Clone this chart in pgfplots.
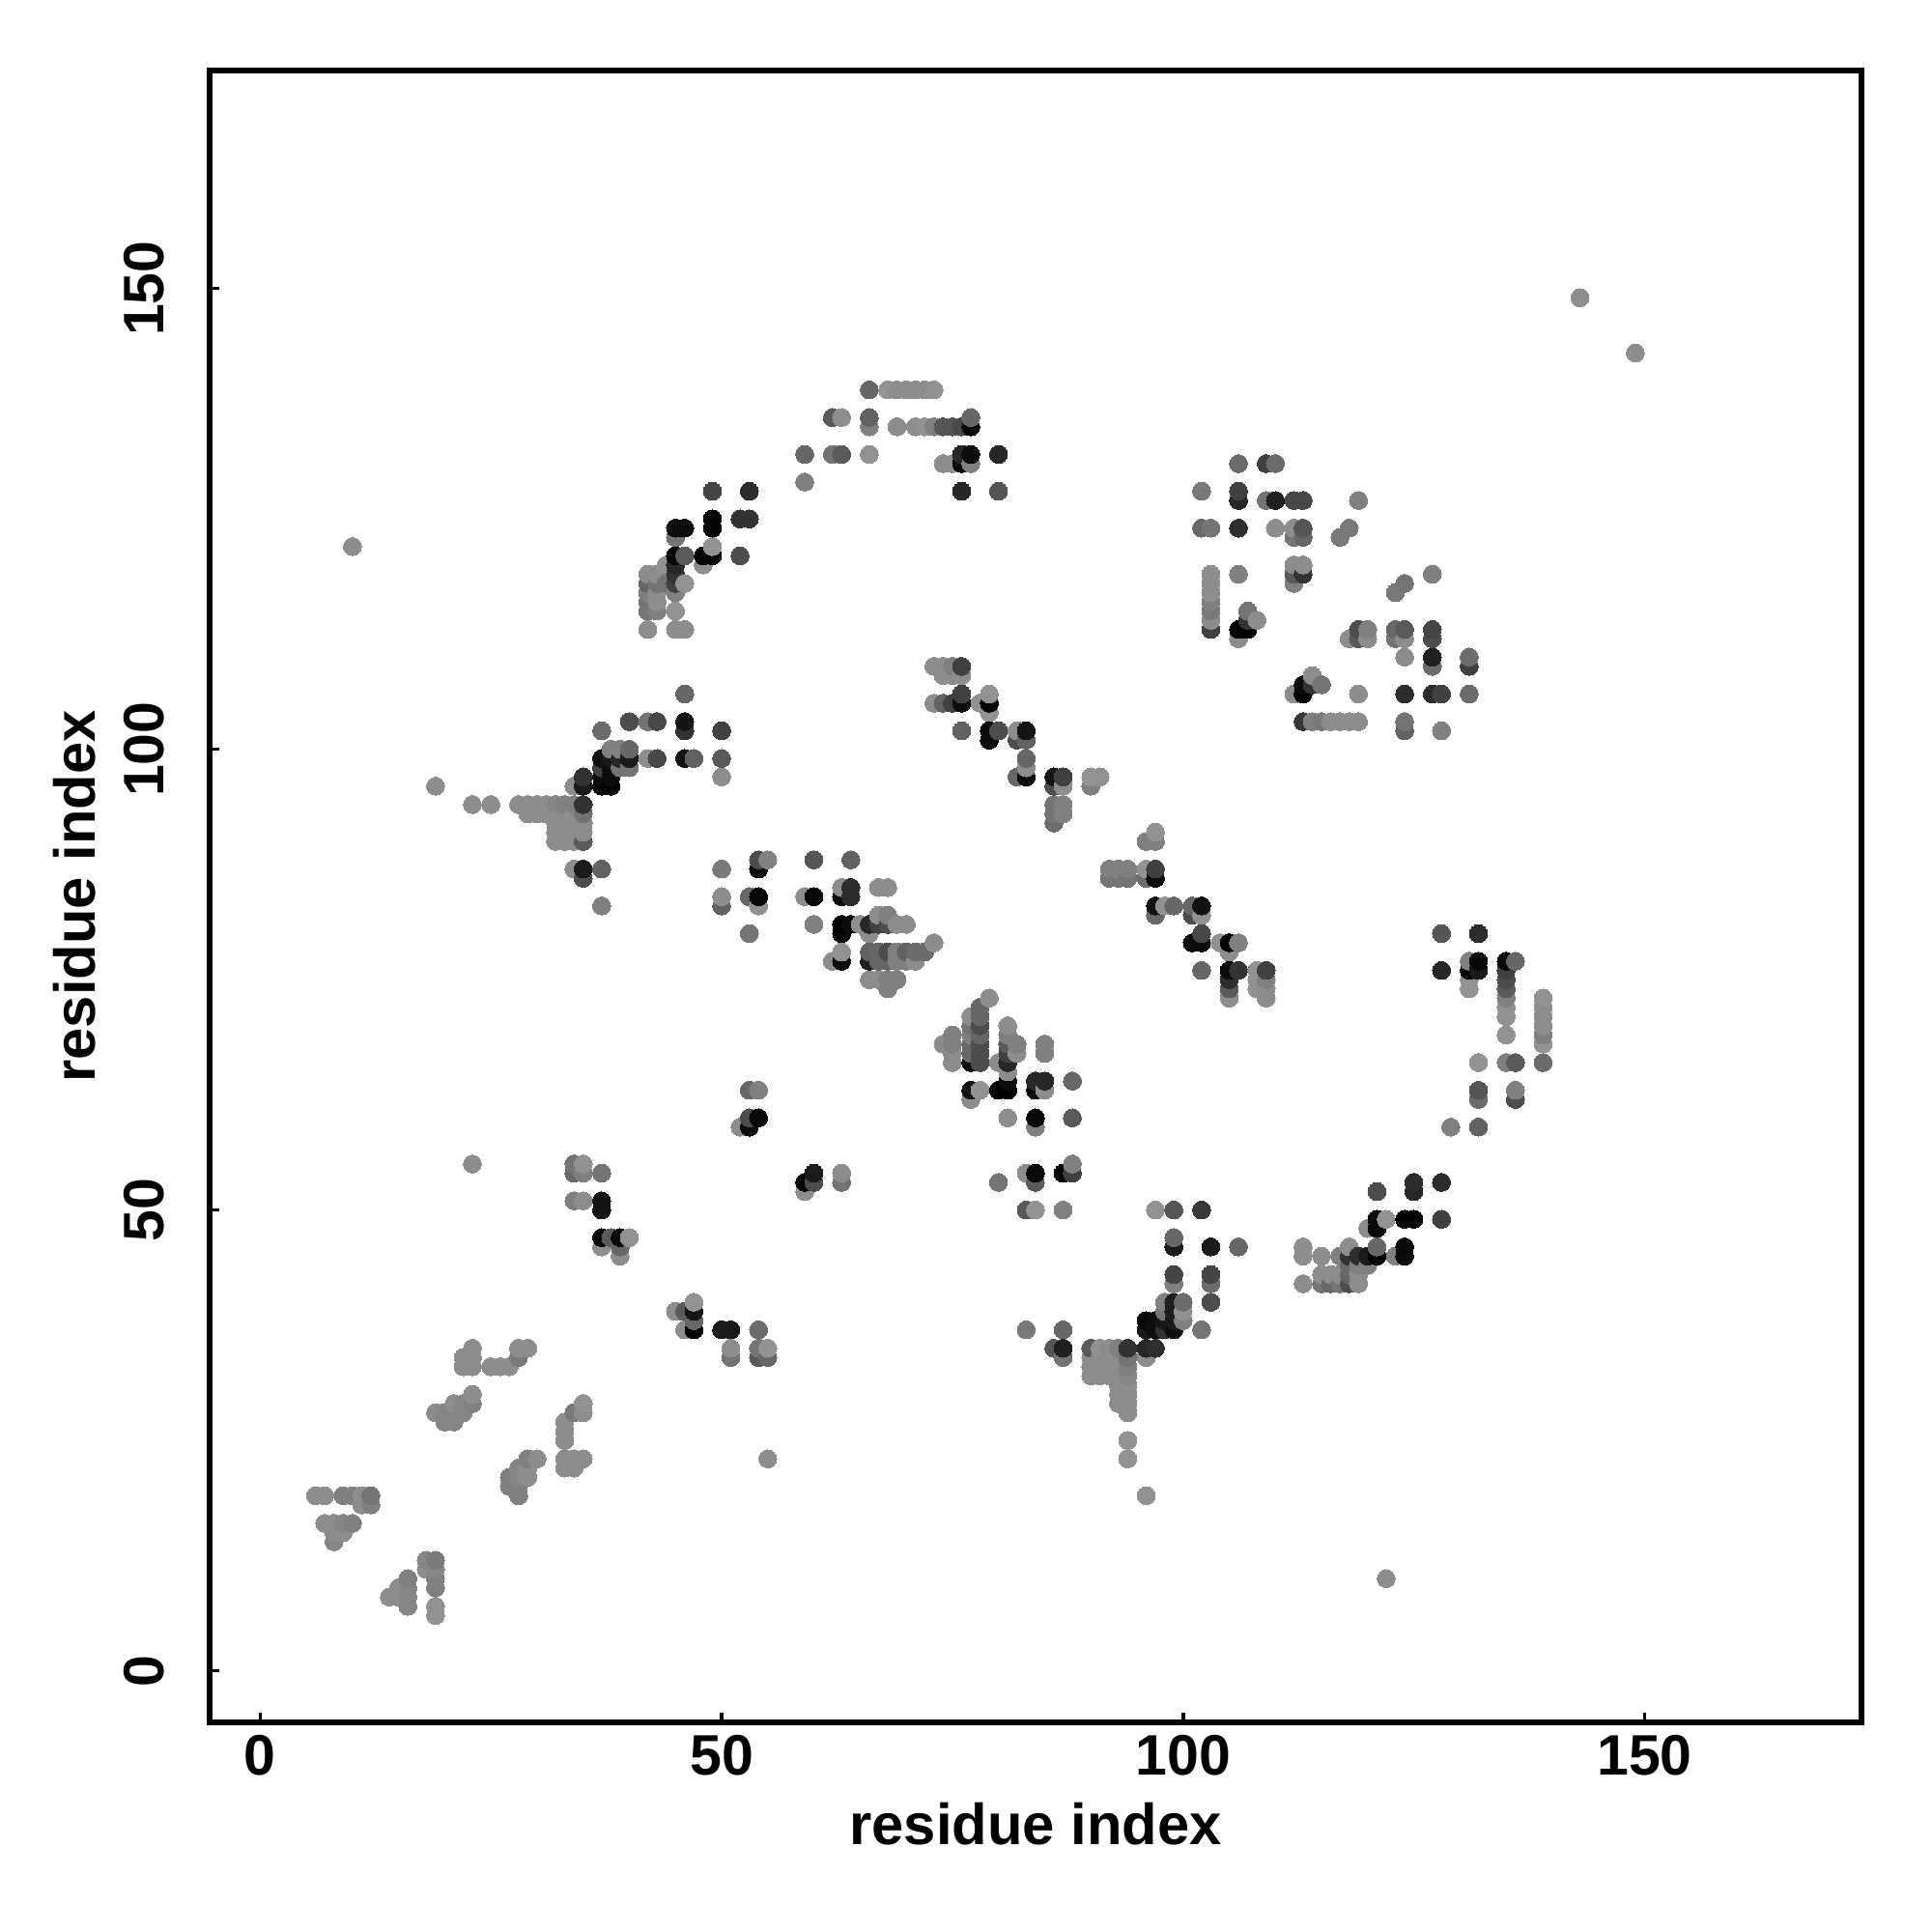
\documentclass[border=0pt]{standalone}
\usepackage{pgfplots}
\pgfplotsset{compat=1.18}
\usepackage{fontspec}
\setmainfont{Liberation Sans}
\begin{document}
\begin{tikzpicture}
\path[use as bounding box] (-2.17,-2.17) rectangle (17.83,17.83);
\begin{axis}[
  at={(0,0)}, anchor=south west,
  scale only axis, width=17.10cm, height=17.10cm,
  xmin=-5.475, xmax=173.5, ymin=-5.6, ymax=173.66,
  axis line style={line width=1.5pt},
  tick style={line width=1pt, black},
  major tick length=0.1cm,
  tick pos=left,
  xtick={0,50,100,150}, ytick={0,50,100,150},
  /pgf/number format/assume math mode=true,
  tick label style={font=\fontsize{16.8}{18}\selectfont\bfseries},
  x tick label style={anchor=base, yshift=-0.545cm},
  y tick label style={rotate=90, anchor=center, yshift=0.68cm},
  xlabel={residue index}, ylabel={residue index},
  every axis x label/.style={at={(rel axis cs:0.5,0)}, anchor=base, yshift=-1.26cm, font=\fontsize{17}{18}\selectfont\bfseries},
  every axis y label/.style={at={(rel axis cs:0,0.5)}, rotate=90, anchor=base, yshift=1.18cm, font=\fontsize{17}{18}\selectfont\bfseries},
  colormap={bw}{gray(0cm)=(0); gray(1cm)=(1)},
  point meta min=0, point meta max=1,
  clip=true,
]
\addplot[only marks, mark=*, mark size=2.65pt, scatter, scatter src=explicit,
  scatter/use mapped color={draw=mapped color, fill=mapped color}, mark options={line width=0pt}]
  table[row sep=\\, header=false, x index=0, y index=1, meta index=2] {
6 19 .55\\7 16 .55\\7 19 .55\\8 14 .52\\8 15 .55\\8 16 .55\\9 15 .55\\9 16 .52\\9 19 .5\\10 16 .5\\10 19 .5\\10 122 .55\\
11 18 .55\\11 19 .55\\12 18 .5\\12 19 .45\\14 8 .55\\15 8 .55\\15 9 .55\\16 7 .52\\16 8 .52\\16 9 .52\\16 10 .5\\
18 11 .55\\18 12 .52\\19 6 .57\\19 7 .57\\19 9 .5\\19 10 .5\\19 11 .52\\19 12 .48\\19 28 .55\\19 96 .55\\
20 27 .52\\20 28 .52\\21 27 .52\\21 28 .52\\21 29 .55\\22 28 .52\\22 29 .52\\22 33 .55\\22 34 .55\\
23 29 .5\\23 30 .55\\23 33 .55\\23 34 .55\\23 35 .55\\23 55 .55\\23 94 .55\\25 33 .55\\25 94 .55\\26 33 .55\\
27 20 .5\\27 21 .5\\27 33 .55\\28 19 .5\\28 20 .5\\28 21 .52\\28 22 .52\\28 34 .47\\28 35 .55\\28 94 .55\\
29 21 .55\\29 22 .55\\29 23 .5\\29 35 .55\\29 93 .55\\29 94 .55\\30 23 .55\\30 93 .55\\30 94 .55\\31 93 .55\\31 94 .55\\
32 90 .55\\32 91 .55\\32 92 .55\\32 93 .55\\32 94 .52\\
33 22 .55\\33 23 .55\\33 25 .55\\33 26 .55\\33 27 .55\\33 90 .55\\33 91 .55\\33 92 .55\\33 93 .55\\33 94 .5\\
34 22 .55\\34 23 .55\\34 28 .47\\34 51 .5\\34 54 .4\\34 55 .45\\34 87 .55\\34 90 .55\\34 91 .55\\34 92 .55\\34 93 .55\\34 94 .5\\34 96 .55\\
35 23 .55\\35 28 .55\\35 29 .57\\35 51 .55\\35 54 .5\\35 55 .57\\35 86 .3\\35 87 .1\\35 90 .35\\35 91 .55\\35 92 .55\\35 93 .45\\35 94 .2\\35 96 .1\\35 97 .2\\
37 46 .55\\37 47 .03\\37 50 .08\\37 51 .08\\37 54 .45\\37 83 .5\\37 87 .38\\37 96 0\\37 97 .05\\37 98 .25\\37 99 .07\\37 102 .42\\
38 47 .35\\38 96 0\\38 97 .05\\38 98 .05\\38 99 .1\\38 100 .5\\
39 45 .55\\39 46 .4\\39 47 .03\\39 98 .45\\39 99 .15\\39 100 .5\\
40 47 .57\\40 98 .45\\40 99 .1\\40 100 .4\\40 103 .3\\
42 99 .55\\42 103 .45\\42 113 .55\\42 115 .45\\42 116 .45\\42 117 .5\\42 118 .4\\42 119 .55\\
43 99 .28\\43 103 .28\\43 115 .5\\43 116 .55\\43 117 .55\\43 118 .45\\43 119 .55\\
44 118 .45\\44 120 .57\\
45 39 .55\\45 113 .55\\45 115 .57\\45 117 .5\\45 118 .25\\45 119 .2\\45 120 .15\\45 121 .02\\45 123 .45\\45 124 .05\\
46 37 .55\\46 39 .35\\46 99 .07\\46 102 .2\\46 103 .08\\46 106 .4\\46 113 .55\\46 118 .57\\46 121 .35\\46 124 .05\\
47 37 0\\47 38 .4\\47 39 .08\\47 40 .57\\47 99 .38\\48 120 .55\\48 121 .02\\
49 121 .02\\49 122 .57\\49 124 .02\\49 125 .02\\49 128 .27\\
50 37 .1\\50 83 .38\\50 84 .55\\50 87 .47\\50 97 .55\\50 99 .35\\50 102 .25\\
51 34 .45\\51 35 .55\\51 37 .1\\52 59 .55\\52 121 .3\\52 125 .2\\
53 59 .05\\53 60 .3\\53 63 .4\\53 80 .45\\53 84 .4\\53 125 .2\\53 128 .17\\
54 34 .35\\54 35 .45\\54 37 .42\\54 60 .03\\54 63 .5\\54 83 .57\\54 84 .03\\54 87 .05\\54 88 .3\\
55 23 .55\\55 34 .4\\55 35 .57\\55 88 .5\\
59 52 .55\\59 53 0\\59 84 .55\\59 129 .5\\59 132 .4\\
60 53 .3\\60 54 .1\\60 81 .5\\60 84 .03\\60 88 .33\\
62 77 .55\\62 132 .45\\62 136 .35\\
63 53 .45\\63 54 .55\\63 77 .05\\63 78 .57\\63 80 .03\\63 81 0\\63 84 .05\\63 85 .55\\63 132 .35\\63 136 .55\\
64 81 .05\\64 84 .17\\64 85 .17\\64 88 .38\\65 81 .55\\
66 75 .55\\66 77 .12\\66 78 .38\\66 80 .55\\66 81 .15\\66 132 .57\\66 135 .5\\66 136 .38\\66 139 .4\\
67 75 .55\\67 77 .4\\67 78 .4\\67 81 .25\\67 82 .55\\67 85 .55\\
68 74 .5\\68 75 .5\\68 77 .4\\68 78 .3\\68 81 .3\\68 82 .5\\68 85 .55\\68 139 .57\\
69 75 .5\\69 77 .5\\69 78 .5\\69 81 .55\\69 135 .55\\69 139 .55\\
70 77 .5\\70 78 .38\\70 81 .55\\70 139 .55\\71 77 .55\\71 78 .42\\71 135 .55\\71 139 .55\\
72 78 .42\\72 135 .57\\72 139 .55\\73 79 .55\\73 105 .55\\73 109 .55\\73 135 .5\\73 139 .57\\
74 68 .55\\74 105 .38\\74 108 .55\\74 109 .55\\74 131 .55\\74 135 .33\\
75 66 .55\\75 67 .55\\75 68 .5\\75 69 .5\\75 105 .25\\75 108 .55\\75 109 .5\\75 131 .55\\75 135 .33\\
76 102 .38\\76 105 .05\\76 106 .25\\76 108 .55\\76 109 .25\\76 128 .15\\76 131 .03\\76 132 .15\\76 135 .28\\
77 62 .55\\77 63 .08\\77 66 .05\\77 67 .4\\77 68 .4\\77 69 .5\\77 70 .45\\77 71 .55\\77 131 .5\\77 132 .05\\77 135 .03\\77 136 .4\\
78 63 .57\\78 66 .3\\78 67 .3\\78 68 .3\\78 69 .4\\78 70 .3\\78 71 .4\\78 72 .4\\78 105 .57\\
79 73 .55\\79 101 .05\\79 102 .05\\79 104 .57\\79 105 .03\\79 106 .57\\
80 53 .45\\80 63 0\\80 66 .55\\80 102 .3\\80 128 .33\\80 132 .15\\
81 60 .55\\81 63 0\\81 64 .05\\81 65 .55\\81 66 .15\\81 67 .25\\81 68 .35\\81 69 .5\\81 70 .55\\
82 67 .55\\82 68 .5\\82 97 .4\\82 101 .3\\82 102 .55\\
83 37 .47\\83 50 .35\\83 54 .55\\83 97 .05\\83 98 .55\\83 99 .4\\83 101 .38\\83 102 .08\\
84 50 .57\\84 53 .35\\84 54 .03\\84 59 .5\\84 60 .03\\84 63 .03\\84 64 .15\\
85 63 .55\\85 64 .15\\85 67 .5\\85 68 .5\\
86 35 .33\\86 92 .42\\86 93 .45\\86 94 .45\\86 96 .3\\86 97 .08\\
87 34 .45\\87 35 .12\\87 37 .4\\87 50 .5\\87 54 .03\\87 93 .5\\87 94 .5\\87 96 .55\\87 97 .25\\
88 54 .25\\88 55 .5\\88 60 .35\\88 64 .4\\
90 32 .55\\90 33 .55\\90 34 .55\\90 35 .35\\90 96 .5\\90 97 .57\\
91 32 .55\\91 33 .55\\91 34 .55\\91 35 .57\\91 97 .57\\
92 32 .55\\92 33 .55\\92 34 .55\\92 35 .55\\92 86 .45\\92 87 .5\\
93 29 .55\\93 30 .55\\93 31 .55\\93 32 .55\\93 33 .55\\93 34 .55\\93 35 .5\\93 86 .45\\93 87 .5\\
94 23 .57\\94 25 .57\\94 28 .55\\94 29 .55\\94 30 .55\\94 31 .55\\94 32 .52\\94 33 .5\\94 34 .45\\94 35 .2\\94 86 .45\\94 87 .5\\
96 19 .57\\96 34 .55\\96 35 .15\\96 37 .1\\96 38 .03\\96 86 .42\\96 87 .57\\96 90 .5\\
97 35 .18\\97 37 .05\\97 38 .05\\97 50 .57\\97 82 .4\\97 83 .07\\97 86 .05\\97 87 .25\\97 90 .5\\97 91 .57\\
98 37 .2\\98 38 .08\\98 39 .45\\98 40 .5\\98 83 .57\\
99 37 .05\\99 38 .1\\99 39 .12\\99 40 .12\\99 42 .5\\99 43 .27\\99 46 .1\\99 47 .4\\99 50 .33\\99 83 .4\\
100 38 .5\\100 39 .57\\100 40 .42\\101 79 .05\\101 82 .3\\101 83 .4\\
102 37 .45\\102 50 .22\\102 76 .4\\102 79 .05\\102 80 .28\\102 82 .57\\102 83 .07\\102 124 .4\\102 128 .47\\
103 40 .3\\103 42 .42\\103 43 .27\\103 46 .1\\103 113 .25\\103 114 .55\\103 115 .47\\103 116 .5\\103 117 .55\\103 118 .55\\103 119 .55\\103 124 .45\\
104 79 .57\\105 73 .55\\105 74 .35\\105 75 .18\\105 76 .05\\105 78 .55\\105 79 0\\
106 46 .4\\106 76 .2\\106 79 .5\\106 112 .55\\106 113 0\\106 119 .5\\106 124 .18\\106 127 .15\\106 128 .25\\106 131 .42\\
107 113 0\\107 114 .2\\107 115 .45\\108 74 .57\\108 75 .57\\108 76 .57\\108 114 .55\\
109 73 .55\\109 74 .55\\109 75 .5\\109 76 .25\\109 127 .45\\109 131 .25\\110 124 .55\\110 127 .12\\110 131 .42\\
112 106 .55\\112 118 .5\\112 119 .35\\112 120 .55\\112 123 .45\\112 124 .55\\112 127 .28\\
113 42 .55\\113 45 .55\\113 46 .55\\113 103 .22\\113 106 0\\113 107 .05\\113 119 .2\\113 120 .55\\113 123 .4\\113 124 .33\\113 127 .28\\
114 103 .5\\114 107 .2\\114 108 .55\\115 42 .45\\115 43 .55\\115 45 .55\\115 103 .47\\115 107 .45\\
116 42 .4\\116 43 .55\\116 103 .55\\117 42 .45\\117 43 .55\\117 45 .5\\117 103 .55\\117 123 .47\\
118 42 .3\\118 43 .4\\118 44 .4\\118 45 .2\\118 46 .55\\118 103 .55\\118 112 .55\\118 124 .47\\
119 42 .55\\119 43 .55\\119 44 .5\\119 45 .18\\119 103 .55\\119 106 .55\\119 112 .35\\119 113 .3\\119 127 .5\\
120 44 .5\\120 45 .1\\120 48 .55\\120 112 .55\\120 113 .5\\
121 45 0\\121 46 .4\\121 48 .03\\121 49 .03\\121 52 .3\\122 10 .55\\122 49 .57\\
123 45 .5\\123 112 .45\\123 113 .4\\123 117 .47\\
124 45 .05\\124 46 .03\\124 49 0\\124 102 .38\\124 103 .45\\124 106 .17\\124 110 .55\\124 112 .55\\124 113 .35\\124 118 .45\\
125 49 0\\125 52 .15\\125 53 .17\\127 106 .17\\127 109 .42\\127 110 .13\\127 112 .3\\127 113 .27\\127 119 .5\\
128 49 .25\\128 53 .17\\128 76 .15\\128 80 .33\\128 102 .5\\128 106 .25\\129 59 .5\\
131 74 .57\\131 75 .57\\131 76 0\\131 77 .5\\131 106 .42\\131 109 .25\\131 110 .42\\
132 59 .38\\132 62 .42\\132 63 .33\\132 66 .57\\132 76 .1\\132 77 .03\\132 80 .17\\
135 66 .5\\135 69 .57\\135 71 .57\\135 72 .57\\135 73 .5\\135 74 .35\\135 75 .3\\135 76 .25\\135 77 .03\\
136 62 .3\\136 63 .5\\136 66 .35\\136 77 .4\\
139 66 .42\\139 68 .57\\139 69 .5\\139 70 .55\\139 71 .55\\139 72 .55\\139 73 .57\\
143 149 .55\\149 143 .55\\
};
\end{axis}
\end{tikzpicture}
\end{document}
